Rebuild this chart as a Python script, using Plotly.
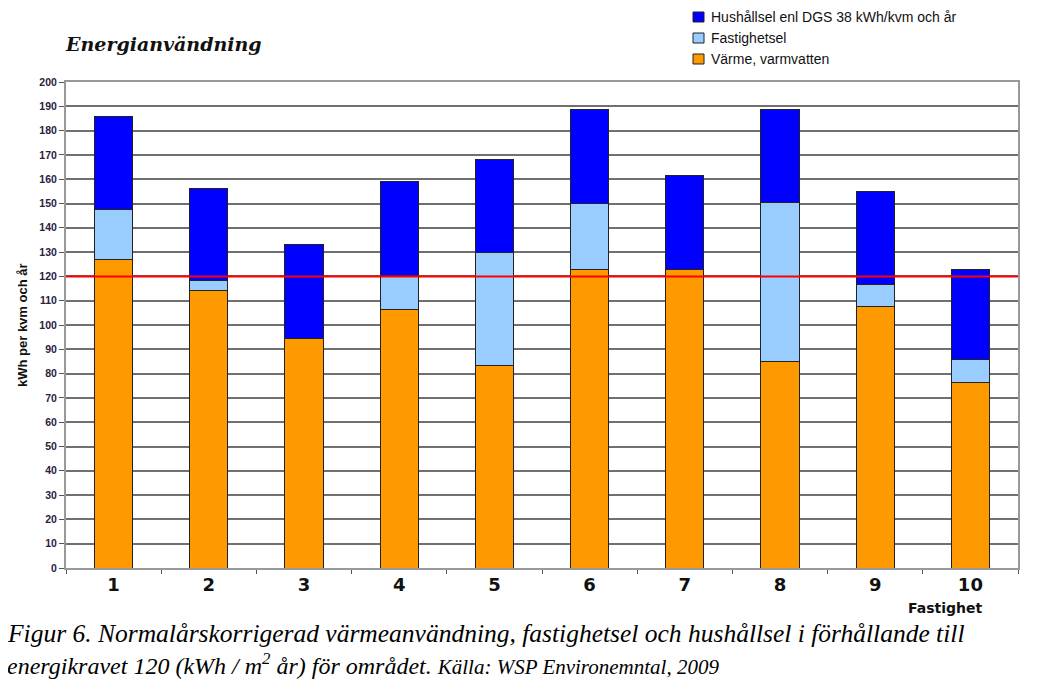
import plotly.graph_objects as go

categories = ["1", "2", "3", "4", "5", "6", "7", "8", "9", "10"]
varme = [127, 114, 94.6, 106.3, 83.3, 122.8, 123, 84.9, 107.8, 76.5]
fastighetsel = [20.5, 4.2, 0, 14, 46.7, 27.2, 0, 65.5, 8.8, 9.1]
hushallsel = [38.2, 38.1, 38.4, 38.9, 38.3, 38.5, 38.4, 38.3, 38.4, 37.4]
series_names = ["Värme, varmvatten", "Fastighetsel", "Hushållsel enl DGS 38 kWh/kvm och år"]
series_colors = ["#FF9900", "#99CCFF", "#0000FF"]
energikrav = 120
y_ticks = list(range(0, 201, 10))

# figure geometry (page body has an 8px margin)
W, H = 1038, 672
ML, MR, MT, MB = 58, 28, 74, 112
PW, PH = W - ML - MR, H - MT - MB


def px(x):
    return (x - ML) / PW


def py(y):
    return (H - MB - y) / PH


line = dict(color="#222222", width=1)
fig = go.Figure()
for vals, name, col in zip([varme, fastighetsel, hushallsel], series_names, series_colors):
    fig.add_trace(go.Bar(x=categories, y=vals, name=name,
                         marker=dict(color=col, line=line), showlegend=False))

fig.add_shape(type="line", xref="paper", x0=0, x1=1, yref="y", y0=energikrav, y1=energikrav,
              line=dict(color="#FF0000", width=2))

fig.update_layout(
    width=W, height=H,
    barmode="stack", bargap=0.6,
    paper_bgcolor="white", plot_bgcolor="white",
    margin=dict(l=ML, r=MR, t=MT, b=MB, autoexpand=False),
    showlegend=False,
    xaxis=dict(type="category", tickson="boundaries", ticks="outside", ticklen=4,
               tickcolor="#555555", showline=True, linecolor="#999999", linewidth=1.5,
               mirror=True, showgrid=False,
               tickfont=dict(family="DejaVu Sans", size=18, color="#111111", weight="bold")),
    yaxis=dict(range=[0, 200], tickvals=y_ticks, ticks="outside", ticklen=5,
               tickcolor="#555555", showline=True, linecolor="#999999", linewidth=2,
               mirror=True, showgrid=True, gridcolor="#707070", gridwidth=1.5,
               zeroline=False,
               tickfont=dict(family="Liberation Sans, Arial", size=10.5, color="#2a2040", weight="bold")),
)

# manual legend, top-down: Hushållsel, Fastighetsel, Värme
for i, (name, col) in enumerate(zip(series_names[::-1], series_colors[::-1])):
    yc = 9 + 21 * i
    fig.add_shape(type="rect", xref="paper", yref="paper",
                  x0=px(685), x1=px(696), y0=py(yc + 5), y1=py(yc - 5),
                  fillcolor=col, line=dict(color="#222222", width=1))
    fig.add_annotation(text=name, xref="paper", yref="paper", x=px(701), y=py(yc),
                       xanchor="left", yanchor="middle", showarrow=False,
                       font=dict(family="Liberation Sans, Arial", size=14, color="#111111"))

fig.add_annotation(text="<b><i>Energianvändning</i></b>", xref="paper", yref="paper",
                   x=px(55), y=py(36), xanchor="left", yanchor="middle", showarrow=False,
                   font=dict(family="DejaVu Serif", size=19, color="#111111"))
fig.add_annotation(text="<b>kWh per kvm och år</b>", xref="paper", yref="paper",
                   x=px(14), y=0.5, xanchor="center", yanchor="middle", textangle=-90,
                   showarrow=False,
                   font=dict(family="Liberation Sans, Arial", size=13, color="#111111"))
fig.add_annotation(text="<b>Fastighet</b>", xref="paper", yref="paper",
                   x=px(937), y=py(600), xanchor="center", yanchor="middle", showarrow=False,
                   font=dict(family="DejaVu Sans", size=14, color="#111111"))
fig.add_annotation(text="<i>Figur 6. Normalårskorrigerad värmeanvändning, fastighetsel och hushållsel i förhållande till</i>",
                   xref="paper", yref="paper", x=px(-3), y=py(625), xanchor="left", yanchor="middle",
                   showarrow=False, font=dict(family="Liberation Serif", size=25.5, color="#000000"))
fig.add_annotation(text="<i>energikravet 120 (kWh / m<sup>2</sup> år) för området. <span style='font-size:21px'>Källa: WSP Environemntal, 2009</span></i>",
                   xref="paper", yref="paper", x=px(-3), y=py(656), xanchor="left", yanchor="middle",
                   showarrow=False, font=dict(family="Liberation Serif", size=24, color="#000000"))

fig.write_html("out.html")
